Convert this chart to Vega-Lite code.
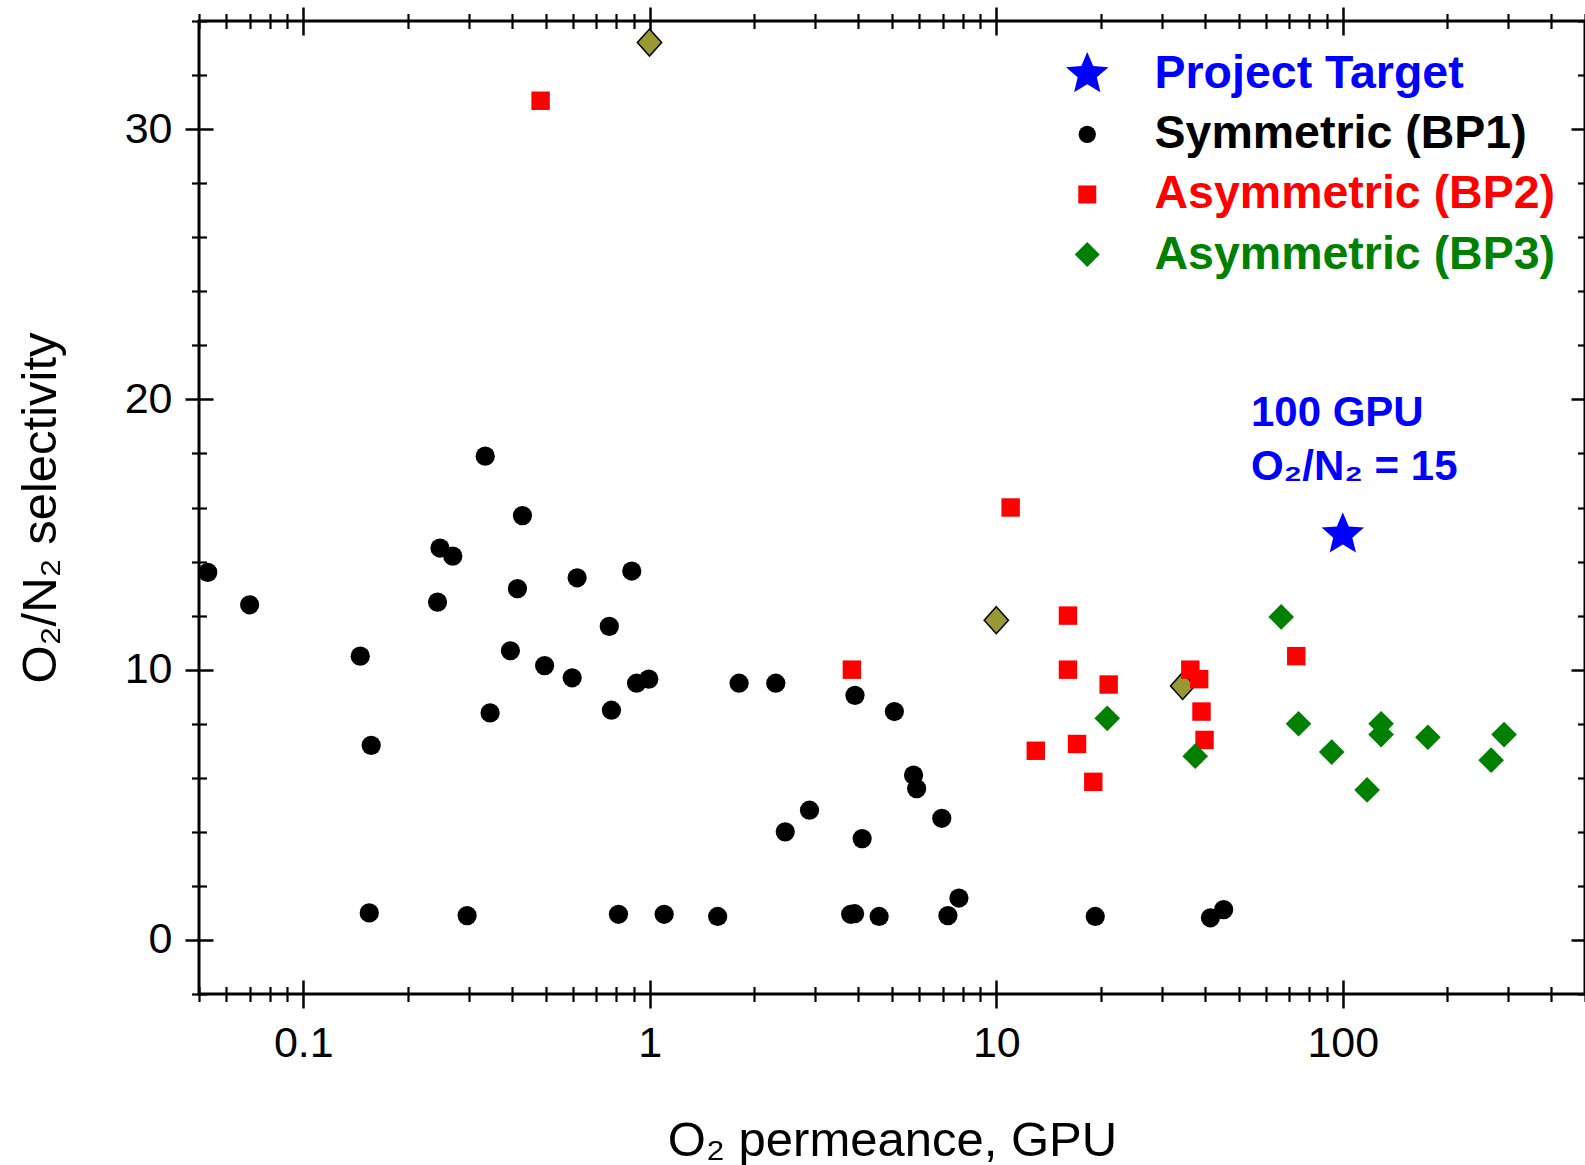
{
  "$schema": "https://vega.github.io/schema/vega-lite/v6.json",
  "width": 1386,
  "height": 973,
  "autosize": {"type": "none"},
  "padding": {"left": 199, "top": 21, "right": 0, "bottom": 171},
  "background": "white",
  "config": {
    "view": {"stroke": "black", "strokeWidth": 3},
    "font": "Liberation Sans",
    "axis": {"domain": false, "grid": false, "tickColor": "black", "labelColor": "black", "titleColor": "black", "labelFont": "Liberation Sans", "titleFont": "Liberation Sans"}
  },
  "datasets": {
    "points": [
      {"series": "Symmetric (BP1)", "x": 0.053, "y": 13.6},
      {"series": "Symmetric (BP1)", "x": 0.070, "y": 12.4},
      {"series": "Symmetric (BP1)", "x": 0.146, "y": 10.5},
      {"series": "Symmetric (BP1)", "x": 0.157, "y": 7.2},
      {"series": "Symmetric (BP1)", "x": 0.155, "y": 1.0},
      {"series": "Symmetric (BP1)", "x": 0.248, "y": 14.5},
      {"series": "Symmetric (BP1)", "x": 0.270, "y": 14.2},
      {"series": "Symmetric (BP1)", "x": 0.244, "y": 12.5},
      {"series": "Symmetric (BP1)", "x": 0.335, "y": 17.9},
      {"series": "Symmetric (BP1)", "x": 0.346, "y": 8.4},
      {"series": "Symmetric (BP1)", "x": 0.297, "y": 0.9},
      {"series": "Symmetric (BP1)", "x": 0.429, "y": 15.7},
      {"series": "Symmetric (BP1)", "x": 0.415, "y": 13.0},
      {"series": "Symmetric (BP1)", "x": 0.396, "y": 10.7},
      {"series": "Symmetric (BP1)", "x": 0.497, "y": 10.15},
      {"series": "Symmetric (BP1)", "x": 0.597, "y": 9.7},
      {"series": "Symmetric (BP1)", "x": 0.617, "y": 13.4},
      {"series": "Symmetric (BP1)", "x": 0.764, "y": 11.6},
      {"series": "Symmetric (BP1)", "x": 0.775, "y": 8.5},
      {"series": "Symmetric (BP1)", "x": 0.887, "y": 13.65},
      {"series": "Symmetric (BP1)", "x": 0.916, "y": 9.5},
      {"series": "Symmetric (BP1)", "x": 0.993, "y": 9.65},
      {"series": "Symmetric (BP1)", "x": 0.812, "y": 0.95},
      {"series": "Symmetric (BP1)", "x": 1.10, "y": 0.95},
      {"series": "Symmetric (BP1)", "x": 1.57, "y": 0.87},
      {"series": "Symmetric (BP1)", "x": 1.81, "y": 9.5},
      {"series": "Symmetric (BP1)", "x": 2.31, "y": 9.5},
      {"series": "Symmetric (BP1)", "x": 2.46, "y": 4.0},
      {"series": "Symmetric (BP1)", "x": 2.89, "y": 4.8},
      {"series": "Symmetric (BP1)", "x": 3.91, "y": 9.05},
      {"series": "Symmetric (BP1)", "x": 4.10, "y": 3.75},
      {"series": "Symmetric (BP1)", "x": 3.80, "y": 0.95},
      {"series": "Symmetric (BP1)", "x": 3.90, "y": 0.97},
      {"series": "Symmetric (BP1)", "x": 4.59, "y": 0.87},
      {"series": "Symmetric (BP1)", "x": 5.08, "y": 8.45},
      {"series": "Symmetric (BP1)", "x": 5.77, "y": 6.1},
      {"series": "Symmetric (BP1)", "x": 5.89, "y": 5.6},
      {"series": "Symmetric (BP1)", "x": 6.96, "y": 4.5},
      {"series": "Symmetric (BP1)", "x": 7.25, "y": 0.9},
      {"series": "Symmetric (BP1)", "x": 7.80, "y": 1.55},
      {"series": "Symmetric (BP1)", "x": 19.3, "y": 0.87},
      {"series": "Symmetric (BP1)", "x": 41.5, "y": 0.82},
      {"series": "Symmetric (BP1)", "x": 45.3, "y": 1.12},
      {"series": "Asymmetric (BP2)", "x": 0.484, "y": 31.05},
      {"series": "Asymmetric (BP2)", "x": 3.83, "y": 10.0},
      {"series": "Asymmetric (BP2)", "x": 11.0, "y": 16.0},
      {"series": "Asymmetric (BP2)", "x": 13.0, "y": 7.0},
      {"series": "Asymmetric (BP2)", "x": 16.1, "y": 12.0},
      {"series": "Asymmetric (BP2)", "x": 16.1, "y": 10.0},
      {"series": "Asymmetric (BP2)", "x": 17.1, "y": 7.25},
      {"series": "Asymmetric (BP2)", "x": 21.1, "y": 9.45},
      {"series": "Asymmetric (BP2)", "x": 19.05, "y": 5.85},
      {"series": "Asymmetric (BP2)", "x": 36.3, "y": 10.0},
      {"series": "Asymmetric (BP2)", "x": 38.5, "y": 9.65},
      {"series": "Asymmetric (BP2)", "x": 39.1, "y": 8.45},
      {"series": "Asymmetric (BP2)", "x": 39.9, "y": 7.4},
      {"series": "Asymmetric (BP2)", "x": 73.4, "y": 10.5},
      {"series": "Asymmetric (BP3)", "x": 20.9, "y": 8.2},
      {"series": "Asymmetric (BP3)", "x": 37.5, "y": 6.8},
      {"series": "Asymmetric (BP3)", "x": 66.4, "y": 11.95},
      {"series": "Asymmetric (BP3)", "x": 74.5, "y": 8.0},
      {"series": "Asymmetric (BP3)", "x": 92.9, "y": 6.95},
      {"series": "Asymmetric (BP3)", "x": 117.5, "y": 5.55},
      {"series": "Asymmetric (BP3)", "x": 129, "y": 8.0},
      {"series": "Asymmetric (BP3)", "x": 129, "y": 7.6},
      {"series": "Asymmetric (BP3)", "x": 176, "y": 7.5},
      {"series": "Asymmetric (BP3)", "x": 268, "y": 6.65},
      {"series": "Asymmetric (BP3)", "x": 292, "y": 7.6},
      {"series": "Project Target", "x": 100, "y": 15}
    ],
    "olive": [
      {"x": 0.998, "y": 33.2},
      {"x": 10.0, "y": 11.83},
      {"x": 34.5, "y": 9.4}
    ],
    "notes": [
      {"line": 1, "x": 54.3, "y": 19.5, "label": "100 GPU"},
      {"line": 2, "x": 54.3, "y": 17.5, "label": "O₂/N₂ = 15"}
    ]
  },
  "resolve": {"axis": {"x": "independent", "y": "independent"}},
  "layer": [
    {
      "data": {"name": "olive"},
      "mark": {"type": "point", "filled": true, "fill": "#999933", "stroke": "black", "strokeWidth": 1.5, "opacity": 1, "size": 729, "shape": "M0,-1L0.9,0L0,1L-0.9,0Z"},
      "encoding": {
        "x": {"field": "x", "type": "quantitative", "scale": {"type": "log", "domain": [0.05, 500], "nice": false},
          "axis": {"orient": "bottom", "values": [0.05,0.06,0.07,0.08,0.09,0.2,0.3,0.4,0.5,0.6,0.7,0.8,0.9,2,3,4,5,6,7,8,9,20,30,40,50,60,70,80,90,200,300,400,500], "tickSize": 15, "tickWidth": 2.2, "offset": -7.5, "labels": false, "title": null}},
        "y": {"field": "y", "type": "quantitative", "scale": {"domain": [-2, 34], "nice": false, "zero": false},
          "axis": {"orient": "left", "values": [-2,2,4,6,8,12,14,16,18,22,24,26,28,32,34], "tickSize": 15, "tickWidth": 2.2, "offset": -7.5, "labels": false, "title": null}}
      }
    },
    {
      "data": {"name": "points"},
      "mark": {"type": "point", "filled": true, "opacity": 1, "strokeWidth": 0},
      "encoding": {
        "x": {"field": "x", "type": "quantitative", "scale": {"type": "log", "domain": [0.05, 500], "nice": false},
          "axis": {"orient": "bottom", "values": [0.1, 1, 10, 100], "format": "~g", "tickSize": 28, "tickWidth": 2.5, "offset": -14, "labelFontSize": 43, "labelPadding": 14, "title": "O₂ permeance, GPU", "titleFontSize": 49, "titleFontWeight": "normal", "titleBaseline": "alphabetic", "titleY": 175}},
        "y": {"field": "y", "type": "quantitative", "scale": {"domain": [-2, 34], "nice": false, "zero": false},
          "axis": {"orient": "left", "values": [0, 10, 20, 30], "tickSize": 28, "tickWidth": 2.5, "offset": -14, "labelFontSize": 43, "labelPadding": 13, "title": "O₂/N₂ selectivity", "titleFontSize": 49, "titleFontWeight": "normal", "titleBaseline": "alphabetic", "titleX": -158, "titleY": 486.5}},
        "shape": {"field": "series", "type": "nominal",
          "scale": {"domain": ["Project Target", "Symmetric (BP1)", "Asymmetric (BP2)", "Asymmetric (BP3)"], "range": ["M0,-1L0.265,-0.364L0.951,-0.309L0.428,0.139L0.588,0.809L0,0.45L-0.588,0.809L-0.428,0.139L-0.951,-0.309L-0.265,-0.364Z", "circle", "square", "M0,-1L1,0L0,1L-1,0Z"]},
          "legend": {"orient": "none", "legendX": 865, "legendY": 30, "title": null, "padding": 0, "labelFont": "Liberation Sans", "labelFontWeight": "bold", "labelFontSize": 46.5, "labelOffset": 44, "labelLimit": 0, "rowPadding": 13.1,
            "symbolSize": {"expr": "datum.value === 'Project Target' ? 2000 : datum.value === 'Asymmetric (BP3)' ? 625 : datum.value === 'Asymmetric (BP2)' ? 324 : 300"},
            "labelColor": {"expr": "datum.value === 'Project Target' ? '#0000ff' : datum.value === 'Asymmetric (BP2)' ? '#ff0000' : datum.value === 'Asymmetric (BP3)' ? '#008000' : '#000000'"}}},
        "color": {"field": "series", "type": "nominal",
          "scale": {"domain": ["Project Target", "Symmetric (BP1)", "Asymmetric (BP2)", "Asymmetric (BP3)"], "range": ["#0000ff", "#000000", "#ff0000", "#008000"]},
          "legend": {"orient": "none", "legendX": 865, "legendY": 30, "title": null, "padding": 0, "labelFont": "Liberation Sans", "labelFontWeight": "bold", "labelFontSize": 46.5, "labelOffset": 44, "labelLimit": 0, "rowPadding": 13.1,
            "symbolSize": {"expr": "datum.value === 'Project Target' ? 2000 : datum.value === 'Asymmetric (BP3)' ? 625 : datum.value === 'Asymmetric (BP2)' ? 324 : 300"},
            "labelColor": {"expr": "datum.value === 'Project Target' ? '#0000ff' : datum.value === 'Asymmetric (BP2)' ? '#ff0000' : datum.value === 'Asymmetric (BP3)' ? '#008000' : '#000000'"}}},
        "size": {"condition": [{"test": "datum.series === 'Project Target'", "value": 2000}, {"test": "datum.series === 'Asymmetric (BP3)'", "value": 660}, {"test": "datum.series === 'Asymmetric (BP2)'", "value": 340}], "value": 370}
      }
    },
    {
      "data": {"name": "notes"},
      "transform": [{"filter": "datum.line == 1"}],
      "mark": {"type": "text", "align": "left", "baseline": "middle", "font": "Liberation Sans", "fontWeight": "bold", "fontSize": 42, "color": "#0000ff"},
      "encoding": {
        "x": {"field": "x", "type": "quantitative", "scale": {"type": "log", "domain": [0.05, 500], "nice": false},
          "axis": {"orient": "top", "values": [0.1, 1, 10, 100], "tickSize": 28, "tickWidth": 2.5, "offset": -14, "labels": false, "title": null}},
        "y": {"field": "y", "type": "quantitative", "scale": {"domain": [-2, 34], "nice": false, "zero": false},
          "axis": {"orient": "right", "values": [0, 10, 20, 30], "tickSize": 28, "tickWidth": 2.5, "offset": -14, "labels": false, "title": null}},
        "text": {"field": "label"}
      }
    },
    {
      "data": {"name": "notes"},
      "transform": [{"filter": "datum.line == 2"}],
      "mark": {"type": "text", "align": "left", "baseline": "middle", "font": "Liberation Sans", "fontWeight": "bold", "fontSize": 42, "color": "#0000ff"},
      "encoding": {
        "x": {"field": "x", "type": "quantitative", "scale": {"type": "log", "domain": [0.05, 500], "nice": false},
          "axis": {"orient": "top", "values": [0.05,0.06,0.07,0.08,0.09,0.2,0.3,0.4,0.5,0.6,0.7,0.8,0.9,2,3,4,5,6,7,8,9,20,30,40,50,60,70,80,90,200,300,400,500], "tickSize": 15, "tickWidth": 2.2, "offset": -7.5, "labels": false, "title": null}},
        "y": {"field": "y", "type": "quantitative", "scale": {"domain": [-2, 34], "nice": false, "zero": false},
          "axis": {"orient": "right", "values": [-2,2,4,6,8,12,14,16,18,22,24,26,28,32,34], "tickSize": 15, "tickWidth": 2.2, "offset": -7.5, "labels": false, "title": null}},
        "text": {"field": "label"}
      }
    }
  ]
}
